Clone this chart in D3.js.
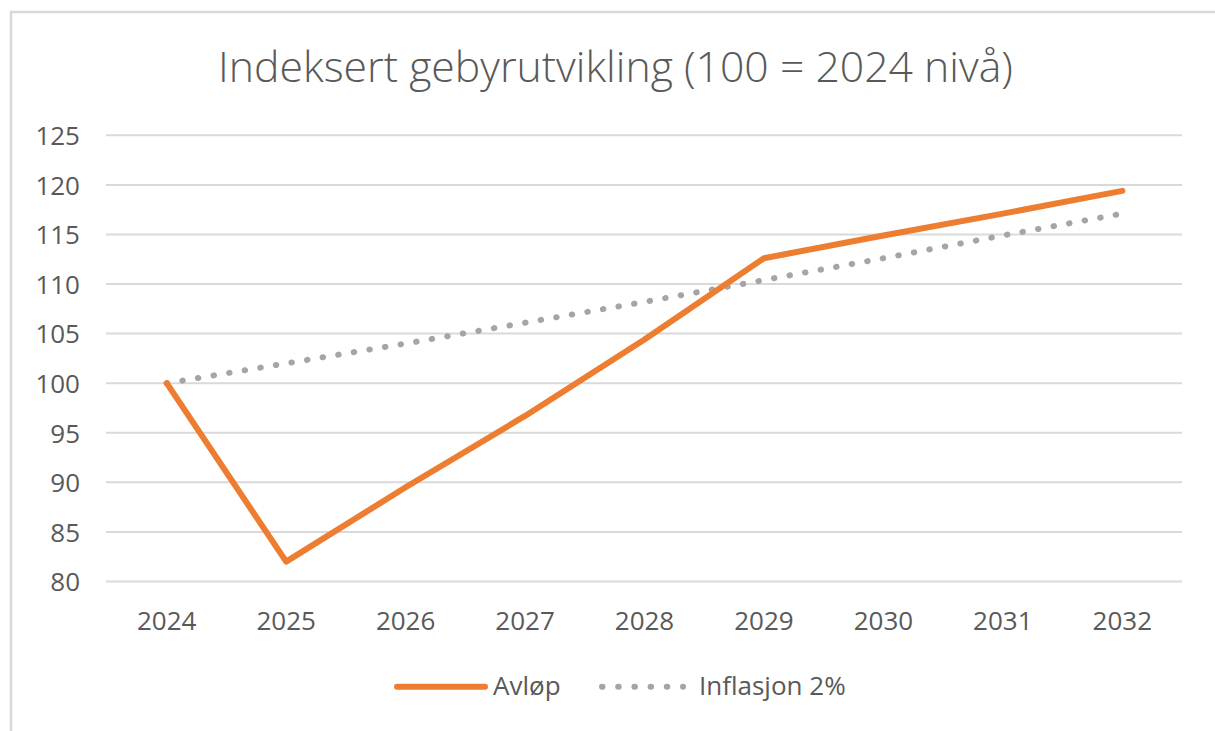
<!DOCTYPE html>
<html><head><meta charset="utf-8">
<script src="https://cdn.jsdelivr.net/npm/d3@7"></script>
<style>body{margin:0;background:#fff}svg{display:block}text{font-family:"Open Sans",sans-serif;fill:#595959}</style>
</head><body><svg id="c" width="1215" height="731"></svg>
<script>
const title = "Indeksert gebyrutvikling (100 = 2024 nivå)";
const years = ["2024","2025","2026","2027","2028","2029","2030","2031","2032"];
const avlop = [100, 82.0, 89.5, 96.7, 104.4, 112.6, 114.9, 117.1, 119.4];
const inflasjon = [100, 102, 104, 106.1, 108.2, 110.4, 112.6, 114.9, 117.1];
const yTicks = [80, 85, 90, 95, 100, 105, 110, 115, 120, 125];
const seriesNames = ["Avløp", "Inflasjon 2%"];

const svg = d3.select("#c");
// outer border
svg.append("path").attr("d","M11,740 L11,12 L1225,12").attr("fill","none").attr("stroke","#d9d9d9").attr("stroke-width",2.5);

const x = d3.scaleBand().domain(years).range([107, 1182]);
const y = d3.scaleLinear().domain([80,125]).range([581.5, 135.3]);
const cx = d => x(d) + x.bandwidth()/2;

// gridlines
svg.append("g").selectAll("line").data(yTicks).join("line")
  .attr("x1",106).attr("x2",1182).attr("y1",d=>y(d)).attr("y2",d=>y(d))
  .attr("stroke","#d9d9d9").attr("stroke-width",2);

// y labels
const yAxis = d3.axisLeft(y).tickValues(yTicks).tickSize(0).tickPadding(0);
const gy = svg.append("g").attr("transform","translate(80,0)").call(yAxis);
gy.select(".domain").remove();
gy.selectAll("text").style("font-size","26px").attr("fill","#595959").attr("dy","0.36em");

// x labels
const xAxis = d3.axisBottom(x).tickSize(0).tickPadding(0);
const gx = svg.append("g").attr("transform","translate(0,611)").call(xAxis);
gx.select(".domain").remove();
gx.selectAll("text").style("font-size","26px").attr("fill","#595959").attr("dy","0.73em");

const line = d3.line().x((d,i)=>cx(years[i])).y(d=>y(d));
svg.append("path").datum(inflasjon).attr("d",line).attr("fill","none")
  .attr("stroke","#a5a5a5").attr("stroke-width",6).attr("stroke-linecap","round")
  .attr("stroke-dasharray","0.5 15.3");
svg.append("path").datum(avlop).attr("d",line).attr("fill","none")
  .attr("stroke","#ed7d31").attr("stroke-width",6).attr("stroke-linecap","round").attr("stroke-linejoin","round");

// title
const t = svg.append("text").attr("x",615.5).attr("y",82).attr("text-anchor","middle")
  .style("font-size","40px").style("font-weight","300").text(title);
const tw = t.node().getComputedTextLength();
t.style("font-size", (40*795/tw)+"px");

// legend
const lg = svg.append("g");
lg.append("line").attr("x1",397).attr("x2",485).attr("y1",686.7).attr("y2",686.7)
  .attr("stroke","#ed7d31").attr("stroke-width",6).attr("stroke-linecap","round");
lg.append("text").attr("x",493).attr("y",695).style("font-size","26px").text(seriesNames[0]);
lg.append("line").attr("x1",602).attr("x2",683).attr("y1",686.7).attr("y2",686.7)
  .attr("stroke","#a5a5a5").attr("stroke-width",6).attr("stroke-linecap","round")
  .attr("stroke-dasharray","0.5 15.7");
lg.append("text").attr("x",699).attr("y",695).style("font-size","26px").text(seriesNames[1]);
</script></body></html>
